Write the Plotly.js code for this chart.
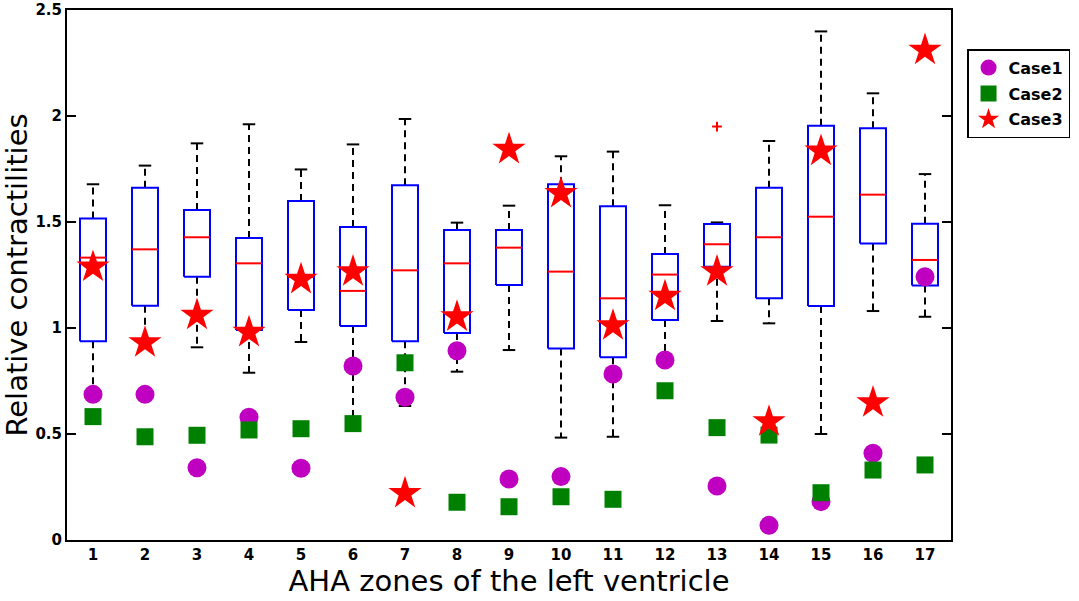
<!DOCTYPE html>
<html>
<head>
<meta charset="utf-8">
<script src="https://cdn.plot.ly/plotly-3.0.1.min.js"></script>
<style>
  html, body { margin: 0; padding: 0; background: #fff; }
  #myDiv { width: 1079px; height: 601px; }
</style>
</head>
<body>
<div id="myDiv"></div>
<script>
// AHA zones and box statistics
var zones        = [1, 2, 3, 4, 5, 6, 7, 8, 9, 10, 11, 12, 13, 14, 15, 16, 17];
var upperWhisker = [1.678, 1.766, 1.871, 1.961, 1.748, 1.866, 1.986, 1.497, 1.577, 1.810, 1.832, 1.579, 1.498, 1.882, 2.399, 2.107, 1.726];
var q3           = [1.516, 1.662, 1.557, 1.425, 1.599, 1.476, 1.673, 1.462, 1.462, 1.678, 1.574, 1.349, 1.491, 1.662, 1.954, 1.942, 1.492];
var medians      = [1.332, 1.371, 1.428, 1.305, 1.241, 1.175, 1.272, 1.305, 1.379, 1.266, 1.140, 1.252, 1.395, 1.428, 1.525, 1.629, 1.321];
var q1           = [0.937, 1.105, 1.242, 0.991, 1.085, 1.009, 0.937, 0.976, 1.203, 0.903, 0.862, 1.038, 1.289, 1.140, 1.104, 1.398, 1.200];
var lowerWhisker = [0.690, 0.930, 0.909, 0.789, 0.934, 0.550, 0.632, 0.794, 0.896, 0.483, 0.487, 0.850, 1.033, 1.022, 0.500, 1.080, 1.053];

var outlierZones  = [13];
var outlierValues = [1.950];

// the three cases
var case1 = [0.687, 0.687, 0.341, 0.579, 0.338, 0.821, 0.673, 0.893, 0.288, 0.299, 0.783, 0.849, 0.255, 0.069, 0.181, 0.409, 1.242];
var case2 = [0.582, 0.487, 0.494, 0.519, 0.525, 0.549, 0.836, 0.178, 0.157, 0.204, 0.192, 0.704, 0.530, 0.495, 0.223, 0.330, 0.354];
var case3 = [1.288, 0.931, 1.061, 0.980, 1.230, 1.266, 0.220, 1.053, 1.843, 1.635, 1.011, 1.150, 1.266, 0.558, 1.835, 0.648, 2.311];

var BOX_HALF = 0.25;
var CAP_HALF = 0.12;

function segments(fn) {
  var x = [], y = [];
  for (var i = 0; i < zones.length; i++) {
    var s = fn(zones[i], i);
    for (var k = 0; k < s.length; k++) {
      x = x.concat(s[k][0]); y = y.concat(s[k][1]);
      x.push(null); y.push(null);
    }
  }
  return {x: x, y: y};
}

var whiskers = segments(function (z, i) {
  return [[[z, z], [q3[i], upperWhisker[i]]], [[z, z], [q1[i], lowerWhisker[i]]]];
});
var caps = segments(function (z, i) {
  return [[[z - CAP_HALF, z + CAP_HALF], [upperWhisker[i], upperWhisker[i]]],
          [[z - CAP_HALF, z + CAP_HALF], [lowerWhisker[i], lowerWhisker[i]]]];
});
var boxes = segments(function (z, i) {
  return [[[z - BOX_HALF, z + BOX_HALF, z + BOX_HALF, z - BOX_HALF, z - BOX_HALF],
           [q1[i], q1[i], q3[i], q3[i], q1[i]]]];
});
var medianLines = segments(function (z, i) {
  return [[[z - BOX_HALF, z + BOX_HALF], [medians[i], medians[i]]]];
});

var data = [
  { x: whiskers.x, y: whiskers.y, type: 'scatter', mode: 'lines', showlegend: false, hoverinfo: 'skip',
    line: {color: 'black', width: 2, dash: '7px,5px'} },
  { x: caps.x, y: caps.y, type: 'scatter', mode: 'lines', showlegend: false, hoverinfo: 'skip',
    line: {color: 'black', width: 2} },
  { x: boxes.x, y: boxes.y, type: 'scatter', mode: 'lines', showlegend: false, hoverinfo: 'skip',
    line: {color: '#0000ff', width: 2} },
  { x: medianLines.x, y: medianLines.y, type: 'scatter', mode: 'lines', showlegend: false, hoverinfo: 'skip',
    line: {color: '#ff0000', width: 2} },
  { x: outlierZones, y: outlierValues, type: 'scatter', mode: 'markers', showlegend: false,
    marker: {symbol: 'cross-thin-open', size: 7, color: '#ff0000', line: {color: '#ff0000', width: 2}} },
  { x: zones, y: case1, type: 'scatter', mode: 'markers', name: 'Case1', legendgroup: 'c1',
    marker: {symbol: 'circle', size: 19, color: '#c000c0'} },
  { x: zones, y: case2, type: 'scatter', mode: 'markers', name: 'Case2', legendgroup: 'c2',
    marker: {symbol: 'square', size: 17, color: '#008000'} },
  { x: zones, y: case3, type: 'scatter', mode: 'markers', name: 'Case3', legendgroup: 'c3',
    marker: {symbol: 'star', size: 25, color: '#ff0000'} }
];

var tickFont = {family: 'DejaVu Sans', size: 15, weight: 'bold', color: 'black'};

var layout = {
  width: 1079,
  height: 601,
  margin: {l: 67, r: 127, t: 10, b: 61},
  paper_bgcolor: 'white',
  plot_bgcolor: 'white',
  showlegend: true,
  xaxis: {
    range: [0.5, 17.5],
    tickvals: zones,
    ticktext: zones.map(String),
    ticks: '',
    showgrid: false,
    zeroline: false,
    showline: true,
    mirror: true,
    linecolor: 'black',
    linewidth: 2,
    tickfont: tickFont,
    title: {text: 'AHA zones of the left ventricle', font: {family: 'DejaVu Sans', size: 29, color: 'black'}, standoff: 6}
  },
  yaxis: {
    range: [0, 2.5],
    dtick: 0.5,
    tick0: 0,
    ticks: 'inside',
    ticklen: 9,
    tickwidth: 2,
    tickcolor: 'black',
    showgrid: false,
    zeroline: false,
    showline: true,
    mirror: 'ticks',
    linecolor: 'black',
    linewidth: 2,
    tickfont: tickFont,
    // two leading nbsp nudge the rotated title up a little, as in the original
    title: {text: '\u00a0\u00a0Relative contractilities', font: {family: 'DejaVu Sans', size: 29, color: 'black'}, standoff: 4}
  },
  legend: {
    x: 1.017,
    y: 0.926,
    xanchor: 'left',
    yanchor: 'top',
    bgcolor: 'white',
    bordercolor: 'black',
    borderwidth: 1.5,
    tracegroupgap: 2,
    traceorder: 'grouped',
    font: {family: 'DejaVu Sans', size: 16, weight: 'bold', color: 'black'}
  }
};

Plotly.newPlot('myDiv', data, layout, {displayModeBar: false, staticPlot: true});
</script>
</body>
</html>
